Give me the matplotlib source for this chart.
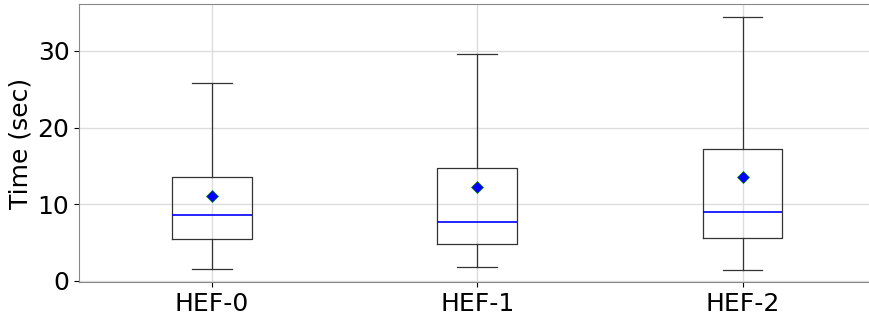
import matplotlib
matplotlib.use('Agg')
import matplotlib.pyplot as plt

labels = ['HEF-0', 'HEF-1', 'HEF-2']
whislo = [1.6, 1.8, 1.4]
q1 = [5.5, 4.8, 5.6]
med = [8.6, 7.7, 9.0]
q3 = [13.6, 14.7, 17.2]
whishi = [25.8, 29.6, 34.4]
mean = [11.1, 12.3, 13.6]


def main():
    stats = []
    for i in range(len(labels)):
        stats.append({'label': labels[i], 'whislo': whislo[i], 'q1': q1[i], 'med': med[i],
                      'q3': q3[i], 'whishi': whishi[i], 'mean': mean[i], 'fliers': []})

    fig = plt.figure(figsize=(8.7, 3.17), dpi=100)
    ax = fig.add_axes([0.091, 0.11, 0.915, 0.877])
    ax.grid(True, color='#dddddd', linewidth=1)
    ax.set_axisbelow(True)
    ax.bxp(stats, showmeans=True, widths=0.3,
           boxprops=dict(color='#333333', linewidth=0.9),
           whiskerprops=dict(color='#333333', linewidth=0.9),
           capprops=dict(color='#333333', linewidth=0.9),
           medianprops=dict(color='blue', linewidth=1.2),
           meanprops=dict(marker='D', markerfacecolor='blue', markeredgecolor='green',
                          markeredgewidth=0.5, markersize=6))
    ax.set_xlim(0.5, 3.5)
    ax.set_ylim(-0.15, 36.1)
    ax.set_yticks([0, 10, 20, 30])
    ax.tick_params(labelsize=18)
    ax.set_ylabel('Time (sec)', fontsize=18)
    for s in ax.spines.values():
        s.set_color('#888888')
    fig.savefig('out.png')


if __name__ == '__main__':
    main()
